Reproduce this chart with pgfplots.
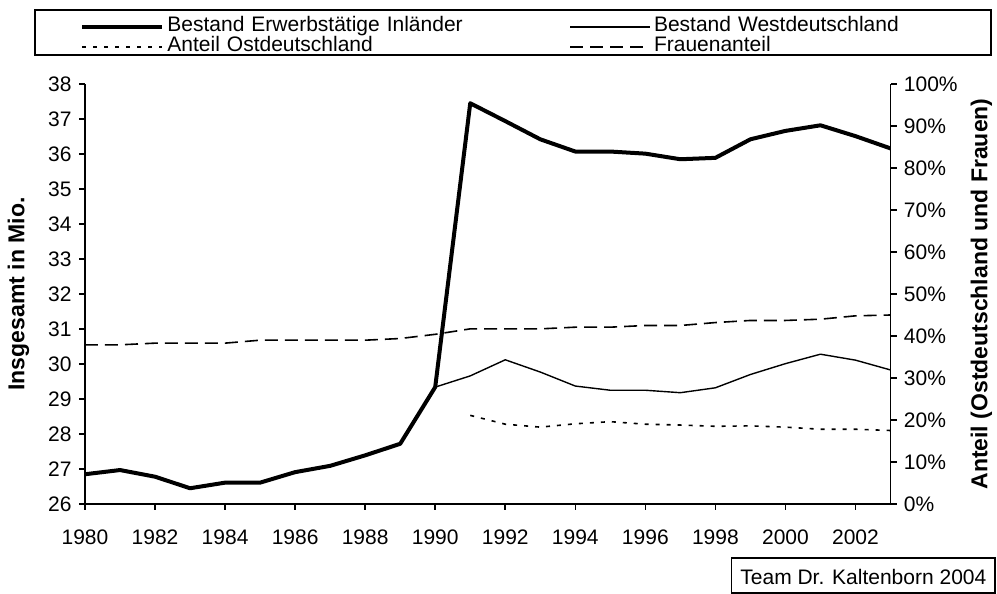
\documentclass[border=0pt]{standalone}
\usepackage{fontspec}
\setmainfont{Liberation Sans}
\usepackage{pgfplots}
\pgfplotsset{compat=1.18}

\begin{document}
\fontsize{10.5}{12}\selectfont
\begin{tikzpicture}
\useasboundingbox (-42.5pt,-45pt) rectangle (456pt,252pt);
\pgfplotsset{
  base/.style={
    scale only axis, width=402.75pt, height=210pt,
    xmin=1980, xmax=2003,
    tick align=outside, major tick length=3pt,
    /pgf/number format/assume math mode=true,
    tick label style={font=\fontsize{10.5}{12}\selectfont},
    axis line style={line width=0.8pt},
    major tick style={line width=0.8pt, black},
    label style={font=\bfseries\fontsize{11.5}{13}\selectfont},
  },
  gesamt/.style={black, line width=2pt, line join=round},
  west/.style={black, line width=0.7pt, line join=round},
  ost/.style={black, line width=0.8pt, dash pattern=on 2pt off 3.5pt},
  frauen/.style={black, line width=0.8pt, dash pattern=on 6.5pt off 3.5pt},
}
% left axis: Mio.
\begin{axis}[base,
  axis x line*=bottom, axis y line*=left,
  ymin=26, ymax=38, ytick={26,27,...,38},
  xtick={1980,1982,...,2002},
  x tick label style={/pgf/number format/1000 sep={}, yshift=-6pt},
  ylabel={Insgesamt in Mio.},
  ylabel style={at={(axis description cs:-0.0826,0.5)}, anchor=center},
]
\addplot[west] coordinates {
  (1980,26.85) (1981,26.97) (1982,26.78) (1983,26.45) (1984,26.61) (1985,26.61)
  (1986,26.91) (1987,27.09) (1988,27.39) (1989,27.72) (1990,29.34) (1991,29.66)
  (1992,30.12) (1993,29.77) (1994,29.37) (1995,29.25) (1996,29.25) (1997,29.18)
  (1998,29.32) (1999,29.70) (2000,30.01) (2001,30.28) (2002,30.11) (2003,29.83)
};
\addplot[gesamt] coordinates {
  (1980,26.85) (1981,26.97) (1982,26.78) (1983,26.45) (1984,26.61) (1985,26.61)
  (1986,26.91) (1987,27.09) (1988,27.39) (1989,27.72) (1990,29.34) (1991,37.45)
  (1992,36.94) (1993,36.42) (1994,36.07) (1995,36.07) (1996,36.01) (1997,35.85)
  (1998,35.89) (1999,36.42) (2000,36.66) (2001,36.82) (2002,36.51) (2003,36.16)
};
\end{axis}
% right axis: shares
\begin{axis}[base,
  axis x line=none, axis y line*=right,
  ymin=0, ymax=100, ytick={0,10,...,100},
  yticklabel={\pgfmathprintnumber{\tick}\%},
  ylabel={Anteil (Ostdeutschland und Frauen)},
  ylabel style={at={(axis description cs:1.113,0.5)}, anchor=center},
  legend columns=2,
  legend cell align=left,
  legend image code/.code={\draw[#1] (0pt,0pt) -- (40pt,0pt);},
  legend style={at={(axis description cs:-0.0062,1.1607)}, anchor=north west,
    draw=none, fill=none, inner sep=0pt, column sep=0pt, row sep=0pt,
    nodes={inner sep=0pt, inner xsep=1.5pt, text width=199.5pt, align=left,
      text height=7.5pt, text depth=2.5pt, font=\fontsize{10.5}{12}\selectfont}},
]
\addlegendimage{gesamt}
\addlegendentry{Bestand Erwerbstätige Inländer}
\addlegendimage{west}
\addlegendentry{Bestand Westdeutschland}
\addplot[ost] coordinates {
  (1991,21.1) (1992,19.0) (1993,18.3) (1994,19.1) (1995,19.6) (1996,19.0)
  (1997,18.8) (1998,18.5) (1999,18.6) (2000,18.3) (2001,17.8) (2002,17.8) (2003,17.5)
};
\addlegendentry{Anteil Ostdeutschland}
\addplot[frauen] coordinates {
  (1980,37.9) (1981,37.9) (1982,38.3) (1983,38.3) (1984,38.3) (1985,39.0)
  (1986,39.0) (1987,39.0) (1988,39.0) (1989,39.4) (1990,40.4) (1991,41.7)
  (1992,41.7) (1993,41.7) (1994,42.1) (1995,42.1) (1996,42.5) (1997,42.5)
  (1998,43.2) (1999,43.7) (2000,43.7) (2001,44.0) (2002,44.8) (2003,45.0)
};
\addlegendentry{Frauenanteil}
\end{axis}
\draw[line width=0.8pt] (-25pt,247pt) rectangle (453pt,224.5pt);
\draw[line width=0.6pt] (323.35pt,-27pt) rectangle (455pt,-44.5pt);
\node[anchor=west, inner sep=0pt] at (327.5pt,-36.25pt) {Team Dr. Kaltenborn 2004};
\end{tikzpicture}
\end{document}
